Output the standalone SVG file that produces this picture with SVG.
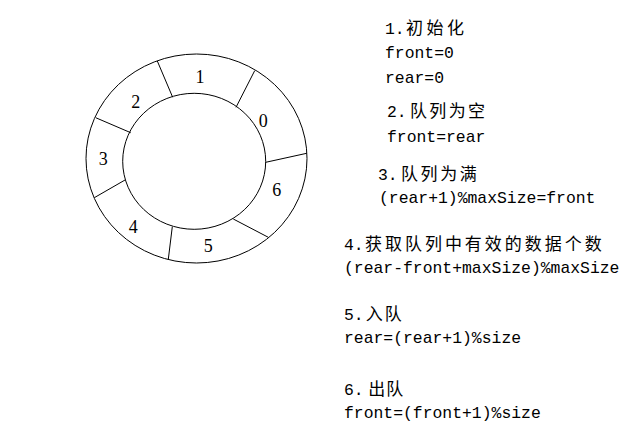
<svg xmlns="http://www.w3.org/2000/svg" width="642" height="435" viewBox="0 0 642 435">
<style>
.ring{fill:none;stroke:#000;stroke-width:1}
.div{stroke:#000;stroke-width:1}
.num{font-family:"Liberation Serif",serif;font-size:18px;text-anchor:middle;fill:#000}
.t{font-family:"Liberation Mono","Noto Sans CJK SC",monospace;font-size:16.4px;fill:#000}
.c{font-family:"Noto Sans CJK SC",sans-serif;font-size:17px;fill:#000}
</style>
<rect width="642" height="435" fill="#fff"/>
<g id="ring">
<ellipse class="ring" cx="196.5" cy="158.5" rx="110.5" ry="104.5"/>
<ellipse class="ring" cx="194.2" cy="161.3" rx="71.5" ry="68"/>
</g>
<g id="connectors">
<line class="div" x1="254.7" y1="70.7" x2="236" y2="107.3"/>
<line class="div" x1="157.3" y1="61" x2="172.7" y2="97.3"/>
<line class="div" x1="95.7" y1="117.7" x2="130.7" y2="132.7"/>
<line class="div" x1="94.3" y1="197.7" x2="125" y2="180"/>
<line class="div" x1="168.3" y1="259.3" x2="172.3" y2="226.7"/>
<line class="div" x1="268.3" y1="237.3" x2="233.3" y2="219"/>
<line class="div" x1="306.7" y1="153.3" x2="265.7" y2="162.3"/>
</g>
<g id="slot0"><text class="num" x="263.3" y="127">0</text></g>
<g id="slot1"><text class="num" x="200" y="82.5">1</text></g>
<g id="slot2"><text class="num" x="135.7" y="107.5">2</text></g>
<g id="slot3"><text class="num" x="103.3" y="165">3</text></g>
<g id="slot4"><text class="num" x="133.3" y="233">4</text></g>
<g id="slot5"><text class="num" x="208.3" y="252">5</text></g>
<g id="slot6"><text class="num" x="276.7" y="196">6</text></g>
<g id="notes">
<text class="t" x="385" y="34">1.</text><text class="c" x="406" y="34" textLength="58" lengthAdjust="spacing">初始化</text>
<text class="t" x="385" y="58.3">front=0</text>
<text class="t" x="385" y="83.3">rear=0</text>
<text class="t" x="387" y="117.3">2.</text><text class="c" x="410" y="117.3" textLength="75" lengthAdjust="spacing">队列为空</text>
<text class="t" x="387" y="142.3">front=rear</text>
<text class="t" x="378" y="180">3.</text><text class="c" x="401" y="180" textLength="75.7" lengthAdjust="spacing">队列为满</text>
<text class="t" x="379" y="203.3">(rear+1)%maxSize=front</text>
<text class="t" x="344" y="250">4.</text><text class="c" x="365" y="250" textLength="236.7" lengthAdjust="spacing">获取队列中有效的数据个数</text>
<text class="t" x="344" y="273.3">(rear-front+maxSize)%maxSize</text>
<text class="t" x="344" y="320">5.</text><text class="c" x="365.7" y="320" textLength="36" lengthAdjust="spacing">入队</text>
<text class="t" x="344" y="343.3">rear=(rear+1)%size</text>
<text class="t" x="344" y="395">6.</text><text class="c" x="368.3" y="395" textLength="35" lengthAdjust="spacing">出队</text>
<text class="t" x="344" y="417.7">front=(front+1)%size</text>
</g>
</svg>
